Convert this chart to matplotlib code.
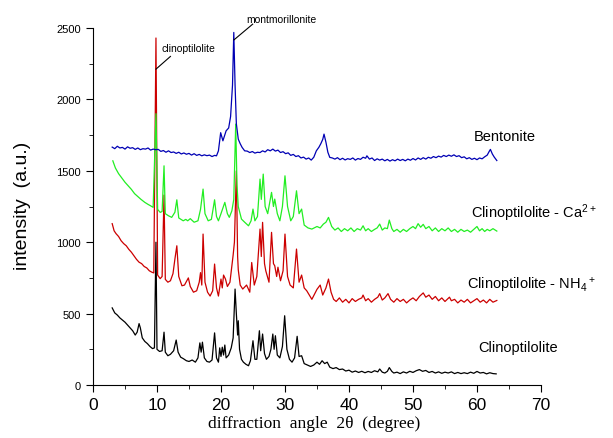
import numpy as np
import matplotlib
matplotlib.use('Agg')
import matplotlib.pyplot as plt
from matplotlib.ticker import MultipleLocator

plt.rcParams['font.family'] = ['Liberation Sans', 'DejaVu Sans']
plt.rcParams['mathtext.fontset'] = 'custom'
plt.rcParams['mathtext.rm'] = 'Liberation Sans'
plt.rcParams['mathtext.default'] = 'regular'

# XRD patterns (2theta in degree, intensity in a.u.)
# Clinoptilolite (black)
clino_x = [3.0, 3.4, 3.8, 4.2, 4.6, 5.0, 5.4, 5.8, 6.2, 6.6, 6.9, 7.2, 7.4, 7.7, 8.1, 8.5,
           8.9, 9.3, 9.6, 9.84, 10.0, 10.4, 10.8, 11.1, 11.3, 11.7, 12.1, 12.6, 13.0, 13.3,
           13.7, 14.1, 14.6, 15.0, 15.5, 16.0, 16.4, 16.7, 16.9, 17.1, 17.4, 17.8, 18.2,
           18.6, 19.0, 19.3, 19.6, 19.8, 20.0, 20.2, 20.4, 20.6, 20.8, 21.2, 21.6, 21.9,
           22.2, 22.4, 22.6, 22.7, 22.9, 23.2, 23.5, 23.9, 24.3, 24.6, 25.0, 25.3, 25.6,
           26.0, 26.2, 26.5, 26.8, 27.1, 27.5, 27.8, 28.1, 28.3, 28.5, 28.8, 29.2, 29.6,
           29.95, 30.3, 30.7, 31.1, 31.5, 31.9, 32.2, 32.6, 33.0, 33.5, 34.0, 34.5, 35.0,
           35.4, 35.8, 36.2, 36.6,
           37.0, 37.5, 38.0, 38.5, 39.0, 39.5, 40.0, 40.5, 41.0, 41.5, 42.0, 42.5, 43.0,
           43.5, 44.0, 44.5, 44.8, 45.2, 45.6, 46.0, 46.3, 46.7, 47.0, 47.5, 48.0, 48.5,
           49.0, 49.5, 50.0, 50.5, 51.0, 51.5, 52.0, 52.5, 53.0, 53.5, 54.0, 54.5, 55.0,
           55.5, 56.0, 56.5, 57.0, 57.5, 58.0, 58.5, 59.0, 59.5, 60.0, 60.5, 61.0, 61.5,
           62.0, 62.5, 63.0]
clino_y = [540, 505, 490, 470, 455, 440, 420, 400, 380, 350, 370, 430, 400, 330, 305, 290,
           270, 255, 260, 1000, 250, 235, 240, 370, 230, 205, 215, 240, 315, 230,
           195, 185, 170, 165, 175, 160, 190, 295, 230, 300, 190, 165, 160,
           175, 365, 190, 160, 260, 200, 265, 210, 280, 190, 210, 260, 330,
           672, 500, 350, 450, 250, 180, 160, 145, 135, 170, 310, 180, 180,
           380, 240, 357, 220, 180, 200, 250, 357, 250, 345, 210, 190, 270,
           485, 250, 180, 160, 190, 341, 200, 205, 150, 140, 130, 140, 160,
           145, 170, 150, 160,
           125, 115, 122, 108, 112, 98, 104, 90, 98, 88, 96, 86, 95,
           88, 100, 92, 112, 90, 84, 96, 122, 95, 84, 90, 80, 92,
           84, 96, 88, 100, 108, 96, 102, 88, 95, 84, 92, 82, 90,
           84, 92, 80, 88, 80, 86, 80, 90, 82, 95, 84, 88, 78,
           86, 80, 78]

# Clinoptilolite - NH4+ (red)
nh4_x = [3.0, 3.3, 3.6, 4.0, 4.4, 4.8, 5.2, 5.6, 6.0, 6.4, 6.8, 7.2, 7.6, 8.0, 8.4, 8.8,
         9.2, 9.5, 9.84, 10.1, 10.5, 10.8, 11.1, 11.3, 11.7, 12.1, 12.5, 12.8, 13.1, 13.4,
         13.9, 14.3, 14.9, 15.2, 15.7, 16.2, 16.6, 16.8, 17.0, 17.2, 17.5, 17.9, 18.3,
         18.7, 19.0, 19.3, 19.6, 20.0, 20.2, 20.4, 20.7, 21.0, 21.4, 21.7, 21.9, 22.1,
         22.4, 22.6, 22.7, 23.0, 23.4, 24.0, 24.5, 24.8, 25.2, 25.6, 26.1, 26.3, 26.5,
         26.8, 27.0, 27.5, 27.9, 28.2, 28.4, 28.7, 28.9, 29.3, 29.7, 30.0, 30.4, 30.8,
         31.3, 31.8, 32.2, 32.6, 33.0, 33.4, 34.2, 35.0, 35.5, 35.9, 36.4, 36.8, 37.2,
         37.6, 38.0, 38.5, 39.0, 39.5, 40.0, 40.5, 41.0, 41.5, 42.0, 42.2, 42.6, 43.0,
         43.5, 44.0, 44.5, 44.8, 45.2, 45.6, 46.1, 46.5, 47.0, 47.5, 48.0, 48.5, 49.0,
         49.5, 50.0, 50.5, 51.0, 51.6, 52.0, 52.5, 53.0, 53.5, 54.0, 54.5, 55.0, 55.7,
         56.0, 56.5, 57.0, 57.5, 58.0, 58.5, 59.0, 59.5, 60.0, 60.5, 61.0, 61.5, 62.0,
         62.5, 63.1]
nh4_y = [1130, 1080, 1060, 1040, 1010, 990, 975, 950, 930, 905, 880, 860, 850, 830, 820, 800,
         790, 785, 2430, 770, 745, 760, 1330, 740, 720, 730, 780, 882, 975, 760,
         695, 700, 750, 690, 650, 660, 720, 787, 700, 1057, 720, 650, 623,
         660, 847, 680, 623, 742, 680, 770, 742, 690, 720, 835, 910, 1000,
         1500, 900, 807, 700, 672, 700, 650, 858, 700, 760, 1092, 900, 1139,
         850, 800, 720, 1069, 850, 835, 760, 825, 730, 800, 1057, 760, 700,
         680, 952, 720, 770, 680, 660, 600, 670, 700, 630, 680, 742, 650,
         600, 585, 610, 580, 600, 575, 605, 585, 600, 610, 630, 590, 605,
         580, 600, 615, 640, 595, 610, 640, 600, 580, 605, 585, 600, 575,
         595, 610, 590, 620, 645, 615, 630, 600, 620, 590, 610, 585, 615,
         590, 600, 575, 595, 580, 600, 575, 590, 605, 580, 595, 575, 600,
         580, 592]

# Clinoptilolite - Ca2+ (green)
ca_x = [3.1, 3.5, 4.0, 4.5, 5.0, 5.5, 6.0, 6.5, 7.0, 7.5, 8.1, 8.6, 9.0, 9.4, 9.84,
        10.1, 10.5, 10.8, 11.1, 11.3, 11.8, 12.3, 12.8, 13.1, 13.4, 14.1, 14.5, 14.8,
        15.2, 15.8, 16.4, 16.8, 17.2, 17.5, 18.0, 18.5, 19.0, 19.3, 19.6, 20.0, 20.3,
        20.6, 21.0, 21.3, 21.7, 22.0, 22.3, 22.5, 22.7, 23.2, 23.7, 24.3, 24.7, 25.0,
        25.3, 25.7, 26.1, 26.3, 26.6, 26.9, 27.3, 27.9, 28.2, 28.4, 28.8, 29.2, 29.6,
        30.0, 30.4, 30.9, 31.3, 31.8, 32.2, 32.6, 33.0, 33.6, 34.2, 35.0, 35.5, 36.0,
        36.4, 36.8,
        37.3, 37.8, 38.3, 38.8, 39.3, 39.8, 40.3, 40.8, 41.3, 41.8, 42.2, 42.6, 43.0,
        43.5, 44.0, 44.4, 44.8, 45.2, 45.6, 46.0, 46.3, 46.7, 47.0, 47.5, 48.0, 48.5,
        49.0, 49.5, 50.0, 50.4, 50.8, 51.2, 51.6, 52.0, 52.5, 53.0, 53.5, 54.0, 54.5,
        55.0, 55.5, 56.0, 56.5, 57.0, 57.5, 58.0, 58.5, 59.0, 59.5, 60.0, 60.4, 60.8,
        61.2, 61.6, 62.0, 62.5, 63.1]
ca_y = [1570, 1520, 1480, 1450, 1420, 1395, 1370, 1340, 1320, 1300, 1279, 1265, 1255, 1244, 1900,
        1230, 1209, 1215, 1535, 1200, 1185, 1174, 1210, 1297, 1170, 1150, 1160, 1150,
        1165, 1140, 1150, 1230, 1372, 1200, 1150, 1160, 1297, 1180, 1150, 1200, 1240,
        1279, 1200, 1174, 1220, 1300, 1827, 1400, 1250, 1162, 1140, 1115, 1150, 1232,
        1150, 1180, 1442, 1300, 1477, 1250, 1200, 1349, 1250, 1302, 1200, 1150, 1250,
        1465, 1250, 1150, 1180, 1360, 1200, 1232, 1120, 1100, 1092, 1110, 1100, 1127,
        1140, 1174,
        1110, 1085, 1100, 1075, 1095, 1080, 1100, 1075, 1095, 1085, 1115, 1080, 1095,
        1075, 1090, 1100, 1127, 1085, 1100, 1095, 1155, 1095, 1075, 1090, 1070, 1090,
        1075, 1095, 1110, 1095, 1130, 1105, 1125, 1095, 1110, 1080, 1100, 1075, 1095,
        1080, 1100, 1075, 1090, 1070, 1090, 1075, 1085, 1070, 1090, 1110, 1080, 1095,
        1075, 1090, 1080, 1095, 1078]

# Bentonite (blue)
bent_x = [3.0, 3.4, 3.8, 4.2, 4.6, 5.0, 5.4, 5.8, 6.2, 6.6, 7.0, 7.4, 7.8, 8.2,
          8.6, 9.0, 9.4, 9.8, 10.2, 10.6, 11.0, 11.4, 11.8, 12.2, 12.6, 13.0, 13.4, 13.8,
          14.2, 14.6, 15.0, 15.4, 15.8, 16.2, 16.6, 17.0, 17.4, 17.8, 18.2, 18.6, 19.0, 19.3,
          19.6, 19.95, 20.3, 20.8, 21.2, 21.5, 21.8, 22.0, 22.2, 22.4, 22.7, 23.0, 23.3, 23.7,
          24.1, 24.5, 24.9, 25.3, 25.7, 26.1, 26.5, 26.9, 27.3, 27.7, 28.1, 28.5, 28.9, 29.3,
          29.7, 30.1, 30.5, 30.9, 31.3, 31.7, 32.1, 32.5, 32.9, 33.3, 33.7, 34.1, 34.5, 34.9,
          35.3, 35.6, 35.9, 36.1, 36.4, 36.7, 37.0,
          37.4, 37.8, 38.2, 38.6, 39.0, 39.4, 39.8, 40.2, 40.6, 41.0, 41.4, 41.8, 42.2, 42.6,
          42.8, 43.2, 43.6, 44.0, 44.4, 44.8, 45.2, 45.6, 46.0, 46.4, 46.8, 47.2, 47.6, 48.0,
          48.4, 48.8, 49.2, 49.6, 50.0, 50.4, 50.8, 51.2, 51.6, 52.0, 52.4, 52.8, 53.2, 53.6,
          54.0, 54.4, 54.8, 55.2, 55.6, 56.0, 56.4, 56.8, 57.2, 57.6, 58.0, 58.4, 58.8, 59.2,
          59.6, 60.0, 60.4, 60.8, 61.2, 61.6, 61.9, 62.1, 62.4, 62.7, 63.1]
bent_y = [1666, 1655, 1672, 1660, 1664, 1652, 1668, 1658, 1662, 1650, 1660, 1648, 1655, 1652,
          1660, 1645, 1652, 1648, 1650, 1636, 1642, 1630, 1640, 1628, 1632, 1622, 1630, 1618,
          1625, 1616, 1622, 1610, 1620, 1608, 1615, 1605, 1612, 1606, 1610, 1600, 1608, 1605,
          1640, 1767, 1710, 1780, 1800, 1880, 2100, 2469, 2100, 1830, 1722, 1690, 1664, 1640,
          1638, 1628, 1635, 1624, 1630, 1628, 1640, 1632, 1648, 1640, 1652, 1638, 1645, 1628,
          1634, 1620, 1626, 1608, 1615, 1600, 1606, 1590, 1596, 1582, 1590, 1575, 1595, 1640,
          1665, 1690, 1720, 1757, 1700, 1630, 1594,
          1590, 1582, 1592, 1578, 1588, 1576, 1585, 1580, 1590, 1575, 1586, 1580, 1595, 1588,
          1605, 1582, 1590, 1572, 1584, 1575, 1582, 1570, 1580, 1568, 1578, 1570, 1582, 1572,
          1580, 1570, 1582, 1574, 1586, 1576, 1590, 1580, 1592, 1582, 1595, 1588, 1600, 1592,
          1603, 1596, 1608, 1600, 1610, 1602, 1612, 1600, 1606, 1592, 1598, 1584, 1592, 1580,
          1588, 1578, 1590, 1584, 1598, 1610, 1635, 1650, 1618, 1596, 1572]

series = [(clino_x, clino_y, 'black'),
          (nh4_x, nh4_y, '#cc0000'),
          (ca_x, ca_y, '#22ee22'),
          (bent_x, bent_y, '#0000b4')]

fig = plt.figure(figsize=(6.13, 4.39), dpi=100)
ax = fig.add_axes([0.1517, 0.1207, 0.7308, 0.8132])

for xs, ys, c in series:
    ax.plot(xs, ys, color=c, lw=0.9)

ax.set_xlim(0, 70)
ax.set_ylim(0, 2500)
ax.spines['top'].set_visible(False)
ax.spines['right'].set_visible(False)
ax.xaxis.set_major_locator(MultipleLocator(10))
ax.xaxis.set_minor_locator(MultipleLocator(5))
ax.yaxis.set_major_locator(MultipleLocator(500))
ax.yaxis.set_minor_locator(MultipleLocator(250))
ax.tick_params(which='both', direction='out')
ax.tick_params(which='major', length=5)
ax.tick_params(which='minor', length=3)
ax.tick_params(axis='x', labelsize=12.5)
ax.tick_params(axis='y', labelsize=8)

# sample names
ax.text(59.5, 1741, 'Bentonite', fontsize=10.5, va='center')
ax.text(59.0, 1211, 'Clinoptilolite - Ca$^{2+}$', fontsize=10.5, va='center')
ax.text(58.5, 707, 'Clinoptilolite - NH$_4$$^+$', fontsize=10.5, va='center')
ax.text(60.2, 264, 'Clinoptilolite', fontsize=10.5, va='center')

# peak annotations
ax.plot([9.84, 12.1], [2212, 2301], color='black', lw=0.8)
ax.text(10.7, 2359, 'clinoptilolite', fontsize=7.5, va='center')
ax.plot([22.03, 24.95], [2417, 2527], color='black', lw=0.8, clip_on=False)
ax.text(23.9, 2562, 'montmorillonite', fontsize=7.5, va='center', clip_on=False)

fig.text(0.512, 0.016, 'diffraction  angle  2\u03b8  (degree)', family='Liberation Serif',
         fontsize=12.5, ha='center', va='bottom')
fig.text(0.036, 0.53, 'intensity  (a.u.)', fontsize=14, rotation=90, ha='center', va='center')

plt.savefig('out.png', dpi=100)
